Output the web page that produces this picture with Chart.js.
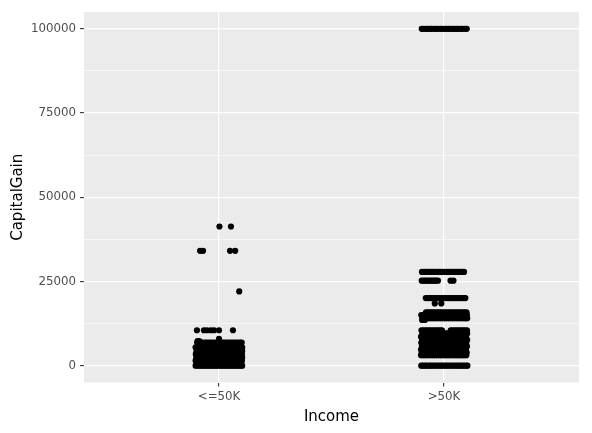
<!DOCTYPE html>
<html>
<head>
<meta charset="utf-8">
<script src="https://cdn.jsdelivr.net/npm/chart.js@4/dist/chart.umd.min.js"></script>
<style>
  html, body { margin: 0; padding: 0; background: #ffffff; }
  #wrap { width: 592px; height: 433px; }
</style>
</head>
<body>
<div id="wrap"><canvas id="c" width="592" height="433"></canvas></div>
<script>
// ---- data ----
const categories = ['<=50K', '>50K'];
const yTickValues = [0, 25000, 50000, 75000, 100000];
const yMinorValues = [12500, 37500, 62500, 87500];

// <=50K: capital gain value of each row of points, and the jitter of each point in that row
const lowRowGain = [41310, 34095, 22040, 10520, 7978, 7298, 6849, 5455, 4386, 3411, 2407, 1471, 0];
const lowRowJitter = [
  [0.002, 0.053],
  [-0.084, -0.071, 0.049, 0.072],
  [0.090],
  [-0.098, -0.067, -0.053, -0.036, -0.022, 0.000, 0.062],
  [0.000],
  [-0.095, -0.088],
  [-0.097, -0.089, -0.079, -0.071, -0.060, -0.052, -0.042, -0.034, -0.024, -0.015, -0.005, 0.004,
   0.013, 0.022, 0.031, 0.041, 0.050, 0.059, 0.068, 0.077, 0.086, 0.094, 0.101],
  [-0.104, -0.095, -0.087, -0.077, -0.069, -0.059, -0.051, -0.041, -0.032, -0.023, -0.014, -0.005,
   0.004, 0.013, 0.022, 0.032, 0.041, 0.049, 0.059, 0.067, 0.077, 0.085, 0.095, 0.103],
  [-0.100, -0.092, -0.082, -0.074, -0.065, -0.056, -0.047, -0.038, -0.029, -0.019, -0.011, -0.002,
   0.007, 0.016, 0.025, 0.035, 0.043, 0.052, 0.062, 0.070, 0.079, 0.088, 0.097, 0.103],
  [-0.103, -0.094, -0.086, -0.076, -0.068, -0.058, -0.050, -0.040, -0.031, -0.022, -0.013, -0.004,
   0.005, 0.014, 0.023, 0.033, 0.041, 0.050, 0.060, 0.068, 0.078, 0.086, 0.096, 0.102],
  [-0.101, -0.091, -0.083, -0.073, -0.065, -0.055, -0.047, -0.037, -0.028, -0.020, -0.010, -0.001,
   0.008, 0.017, 0.026, 0.036, 0.044, 0.053, 0.063, 0.071, 0.080, 0.089, 0.098, 0.103],
  [-0.104, -0.096, -0.086, -0.078, -0.068, -0.060, -0.050, -0.042, -0.032, -0.024, -0.014, -0.006,
   0.004, 0.012, 0.022, 0.030, 0.040, 0.048, 0.058, 0.066, 0.076, 0.084, 0.094, 0.102],
  [-0.104, -0.095, -0.086, -0.077, -0.068, -0.058, -0.050, -0.041, -0.031, -0.023, -0.013, -0.004,
   0.006, 0.014, 0.024, 0.032, 0.042, 0.051, 0.060, 0.069, 0.078, 0.087, 0.096, 0.103]
];

// >50K
const highRowGain = [99999, 27828, 25236, 20051, 18481, 15831, 15024, 14084, 13550,
  10520, 9562, 8614, 7688, 6767, 5721, 4787, 3908, 3103, 0];
const highRowJitter = [
  [-0.099, -0.091, -0.080, -0.072, -0.062, -0.055, -0.044, -0.036, -0.028, -0.017, -0.009, 0.002,
   0.010, 0.020, 0.027, 0.038, 0.046, 0.056, 0.063, 0.074, 0.082, 0.093, 0.101],
  [-0.098, -0.089, -0.081, -0.071, -0.063, -0.053, -0.045, -0.035, -0.026, -0.018, -0.008, 0.001,
   0.011, 0.019, 0.028, 0.037, 0.047, 0.055, 0.064, 0.072, 0.081, 0.089],
  [-0.099, -0.090, -0.083, -0.074, -0.066, -0.058, -0.050, -0.042, -0.035, -0.027, 0.029, 0.042],
  [-0.081, -0.072, -0.063, -0.055, -0.046, -0.036, -0.028, -0.019, -0.010, -0.001, 0.008, 0.018,
   0.026, 0.035, 0.044, 0.053, 0.062, 0.071, 0.079, 0.088, 0.095],
  [-0.041, -0.012],
  [-0.080, -0.071, -0.062, -0.053, -0.044, -0.035, -0.026, -0.017, -0.008, 0.002, 0.011, 0.020,
   0.029, 0.038, 0.047, 0.057, 0.066, 0.075, 0.084, 0.092, 0.100],
  [-0.101, -0.092, -0.084, -0.075, -0.066, -0.056, -0.047, -0.038, -0.029, -0.020, -0.011, -0.002,
   0.008, 0.017, 0.027, 0.035, 0.044, 0.054, 0.063, 0.072, 0.081, 0.091, 0.102],
  [-0.096, -0.087, -0.077, -0.068, -0.058, -0.049, -0.040, -0.031, -0.021, -0.012, -0.003, 0.006,
   0.015, 0.025, 0.034, 0.043, 0.052, 0.062, 0.071, 0.080, 0.089, 0.097, 0.103],
  [-0.097, -0.085],
  [-0.100, -0.091, -0.082, -0.073, -0.064, -0.055, -0.045, -0.036, -0.027, -0.018, -0.009, 0.030,
   0.039, 0.048, 0.057, 0.066, 0.075, 0.084, 0.093, 0.102],
  [-0.096, -0.087, -0.078, -0.068, -0.059, -0.050, -0.041, -0.031, -0.022, -0.013, -0.004, 0.005,
   0.014, 0.024, 0.033, 0.042, 0.051, 0.061, 0.070, 0.079, 0.088, 0.096, 0.103],
  [-0.102, -0.093, -0.085, -0.076, -0.067, -0.057, -0.048, -0.039, -0.030, -0.021, -0.012, -0.003,
   0.007, 0.016, 0.025, 0.034, 0.043, 0.053, 0.062, 0.071, 0.080, 0.089, 0.098],
  [-0.097, -0.088, -0.079, -0.069, -0.060, -0.051, -0.042, -0.033, -0.024, -0.014, -0.005, 0.004,
   0.013, 0.022, 0.031, 0.041, 0.050, 0.059, 0.068, 0.077, 0.086, 0.095, 0.103],
  [-0.101, -0.092, -0.084, -0.075, -0.066, -0.056, -0.047, -0.038, -0.029, -0.019, -0.010, -0.001,
   0.008, 0.017, 0.026, 0.036, 0.045, 0.054, 0.063, 0.072, 0.081, 0.090, 0.099],
  [-0.098, -0.089, -0.080, -0.070, -0.061, -0.052, -0.043, -0.034, -0.025, -0.015, -0.006, 0.003,
   0.012, 0.021, 0.030, 0.040, 0.049, 0.058, 0.067, 0.076, 0.085, 0.094, 0.102],
  [-0.102, -0.094, -0.086, -0.076, -0.067, -0.058, -0.049, -0.040, -0.031, -0.021, -0.012, -0.003,
   0.006, 0.015, 0.024, 0.034, 0.043, 0.052, 0.061, 0.070, 0.079, 0.088, 0.097],
  [-0.099, -0.090, -0.081, -0.071, -0.062, -0.053, -0.044, -0.035, -0.026, -0.016, -0.007, 0.002,
   0.011, 0.020, 0.029, 0.039, 0.048, 0.057, 0.066, 0.075, 0.084, 0.093, 0.101],
  [-0.102, -0.093, -0.084, -0.075, -0.066, -0.056, -0.047, -0.038, -0.029, -0.019, -0.010, -0.001,
   0.008, 0.017, 0.026, 0.036, 0.045, 0.054, 0.063, 0.072, 0.081, 0.090, 0.099],
  [-0.101, -0.093, -0.084, -0.076, -0.066, -0.058, -0.049, -0.040, -0.031, -0.021, -0.012, -0.003,
   0.006, 0.015, 0.024, 0.034, 0.043, 0.052, 0.061, 0.070, 0.079, 0.088, 0.097, 0.104]
];

function buildPoints(rowGain, rowJitter, catIndex) {
  const pts = [];
  rowGain.forEach((g, r) => {
    rowJitter[r].forEach(j => pts.push({ x: catIndex + 1 + j, y: g }));
  });
  return pts;
}

const panelBg = {
  id: 'panelBg',
  beforeDraw(chart) {
    const { ctx, chartArea: a } = chart;
    ctx.save();
    ctx.fillStyle = '#EBEBEB';
    ctx.fillRect(a.left, a.top, a.right - a.left, a.bottom - a.top);
    ctx.restore();
  }
};

const tickFont = { family: 'DejaVu Sans', size: 11.8 };
const titleFont = { family: 'DejaVu Sans', size: 15 };
const isMajorY = v => yTickValues.includes(v);

new Chart(document.getElementById('c'), {
  type: 'scatter',
  data: {
    datasets: [
      { data: buildPoints(lowRowGain, lowRowJitter, 0), backgroundColor: '#000', borderColor: '#000', borderWidth: 0, pointRadius: 3.1 },
      { data: buildPoints(highRowGain, highRowJitter, 1), backgroundColor: '#000', borderColor: '#000', borderWidth: 0, pointRadius: 3.1 }
    ]
  },
  options: {
    responsive: false,
    animation: false,
    events: [],
    layout: { padding: { top: 12, right: 13, left: 0, bottom: 0 } },
    plugins: { legend: { display: false }, tooltip: { enabled: false } },
    scales: {
      x: {
        type: 'linear',
        min: 0.4,
        max: 2.6,
        afterBuildTicks: s => { s.ticks = categories.map((c, i) => ({ value: i + 1 })); },
        afterFit: s => { s.height = 50.5; },
        ticks: {
          callback: v => categories[Math.round(v) - 1],
          font: tickFont, color: '#4D4D4D', padding: 3, autoSkip: false, maxRotation: 0
        },
        grid: { color: '#FFFFFF', lineWidth: 1.2, tickLength: 4, tickColor: '#333333', tickWidth: 1.1 },
        border: { display: false },
        title: { display: true, text: 'Income', font: titleFont, color: '#000', padding: { top: 0, bottom: 7 } }
      },
      y: {
        type: 'linear',
        min: -5000,
        max: 105000,
        afterBuildTicks: s => {
          s.ticks = yTickValues.concat(yMinorValues).sort((a, b) => a - b).map(v => ({ value: v }));
        },
        afterFit: s => { s.width = 84; },
        ticks: {
          callback: v => isMajorY(v) ? String(v) : '',
          font: tickFont, color: '#4D4D4D', padding: 4, autoSkip: false
        },
        grid: {
          color: '#FFFFFF',
          lineWidth: c => (c.tick && isMajorY(c.tick.value)) ? 1.2 : 0.6,
          tickLength: 4,
          tickColor: c => (c.tick && isMajorY(c.tick.value)) ? '#333333' : 'rgba(0,0,0,0)',
          tickWidth: 1.1
        },
        border: { display: false },
        title: { display: true, text: 'CapitalGain', font: titleFont, color: '#000', padding: { top: 9.5, bottom: 0 } }
      }
    }
  },
  plugins: [panelBg]
});
</script>
</body>
</html>
